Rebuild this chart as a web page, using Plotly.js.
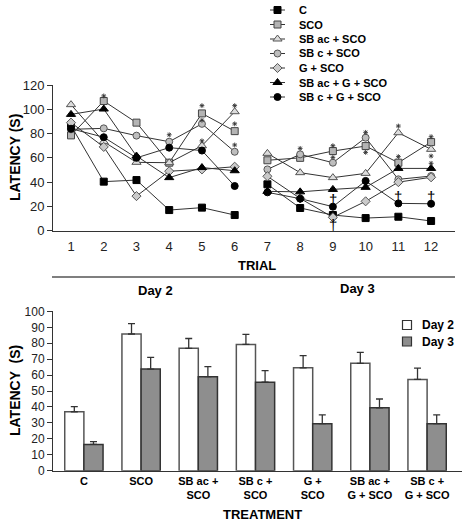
<!DOCTYPE html>
<html><head><meta charset="utf-8">
<script src="https://cdn.plot.ly/plotly-3.0.1.min.js"></script>
<style>html,body{margin:0;padding:0;background:#fff}#chart{width:466px;height:524px}</style>
</head><body><div id="chart"></div>
<script>
// ---------- Top chart data (latency per trial) ----------
const trials = [1,2,3,4,5,6,7,8,9,10,11,12];
const seriesNames = ['C','SCO','SB ac + SCO','SB c + SCO','G + SCO','SB ac + G + SCO','SB c + G + SCO'];
const latC        = [86.5, 40.4, 41.7, 17, 19, 12.9, 38.2, 18.7, 12.9, 10.4, 11.5, 8];
const latSCO      = [78.5, 106.8, 89, 56, 96.6, 82, 58, 60, 65.6, 69.7, 56, 73];
const latSBacSCO  = [103.8, 73.3, 56.3, 56, 70, 98, 63.7, 47.8, 43.7, 47.2, 80.7, 67];
const latSBcSCO   = [83.5, 84.3, 78.3, 73.3, 88, 65, 50.5, 62.9, 56, 76.6, 42.3, 45];
const latGSCO     = [89, 69, 28.5, 49, 50.5, 52.7, 44.8, 26.6, 11, 24.2, 40, 44];
const latSBacGSCO = [95.8, 100.2, 61.5, 43.7, 52, 49.4, 32.4, 32, 34, 35.7, 51.3, 51.3];
const latSBcGSCO  = [84, 77, 60, 68.4, 66, 36.8, 31.6, 26.4, 19.8, 41, 22.5, 22.2];
const trialTickLabels = ['1','2','3','4','5','6','7','8','9','10','11','12'];
// significance marks
const starX = [2, 4, 5, 5, 5, 6, 6, 6, 8, 9, 9, 10, 10, 11, 11, 12, 12, 12];
const starY = [111, 79, 103, 91, 74, 103, 88, 70.6, 67.8, 70, 60.4, 81, 64.5, 86.2, 61, 77.4, 61.5, 55.5];
const daggerX = [9, 9, 11, 12];
const daggerY = [26, 5, 28, 28];

// ---------- Bottom chart data ----------
const treatments = ['C','SCO','SB ac +<br>SCO','SB c +<br>SCO','G +<br>SCO','SB ac +<br>G + SCO','SB c +<br>G + SCO'];
const day2 = [37, 85.8, 76.8, 79.3, 64.6, 67.4, 57.3];
const day2Err = [3.2, 6.5, 6.2, 6.3, 7.6, 6.9, 7.1];
const day3 = [16.5, 63.8, 59, 55.6, 29.5, 39.5, 29.5];
const day3Err = [1.7, 7.3, 6.3, 7.2, 5.6, 5.5, 5.6];
const barNames = ['Day 2','Day 3'];

const FONT = 'Liberation Sans, Arial, Helvetica, sans-serif';
const W = 466, H = 524;
const px = v => v / W, py = v => 1 - v / H;

const allLat = [latC, latSCO, latSBacSCO, latSBcSCO, latGSCO, latSBacGSCO, latSBcGSCO];
const markerStyles = [
  {symbol:'square', size:7, color:'#000', line:{color:'#000', width:1}},
  {symbol:'square', size:7, color:'#b4b4b4', line:{color:'#444', width:1}},
  {symbol:'triangle-up', size:8, color:'#dcdcdc', line:{color:'#555', width:1}},
  {symbol:'circle', size:7, color:'#bebebe', line:{color:'#555', width:1}},
  {symbol:'diamond', size:7, color:'#cacaca', line:{color:'#555', width:1}},
  {symbol:'triangle-up', size:8, color:'#000', line:{color:'#000', width:1}},
  {symbol:'circle', size:7, color:'#000', line:{color:'#000', width:1}}
];

const traces = [];
allLat.forEach((vals, i) => {
  [[0,6],[6,12]].forEach(([a,b]) => {
    traces.push({
      type:'scatter', mode:'lines+markers', xaxis:'x', yaxis:'y',
      x: trials.slice(a,b), y: vals.slice(a,b), name: seriesNames[i],
      line:{color:'#333', width:1}, marker: markerStyles[i],
      showlegend:false, cliponaxis:false, hoverinfo:'skip'
    });
  });
});
// significance stars as asterisk markers
traces.push({type:'scatter', mode:'markers', xaxis:'x', yaxis:'y', x:starX, y:starY,
  marker:{symbol:'asterisk-open', size:4, color:'#333', line:{color:'#333', width:0.9}},
  showlegend:false, cliponaxis:false, hoverinfo:'skip'});

// bottom bars
traces.push({type:'bar', xaxis:'x2', yaxis:'y2', x:treatments, y:day2, name:barNames[0],
  marker:{color:'#fff', line:{color:'#555', width:1.5}},
  error_y:{type:'data', symmetric:false, array:day2Err, arrayminus:day2Err.map(()=>0), color:'#333', thickness:1.3, width:3.5},
  showlegend:false, hoverinfo:'skip'});
traces.push({type:'bar', xaxis:'x2', yaxis:'y2', x:treatments, y:day3, name:barNames[1],
  marker:{color:'#8e8e8e', line:{color:'#333', width:1.5}},
  error_y:{type:'data', symmetric:false, array:day3Err, arrayminus:day3Err.map(()=>0), color:'#333', thickness:1.3, width:3.5},
  showlegend:false, hoverinfo:'skip'});

// custom legends on a pixel-unit overlay axis
const lgX0 = 270, lgX1 = 285, lgTextX = 297, lgY0 = 10, lgDy = 14.5;
const annotations = [];
seriesNames.forEach((n, i) => {
  const yy = lgY0 + i * lgDy;
  traces.push({type:'scatter', mode:'lines', xaxis:'x4', yaxis:'y4', x:[lgX0, lgX1], y:[yy, yy],
    line:{color:'#333', width:1}, showlegend:false, hoverinfo:'skip', cliponaxis:false});
  traces.push({type:'scatter', mode:'markers', xaxis:'x4', yaxis:'y4', x:[(lgX0+lgX1)/2], y:[yy],
    marker: markerStyles[i], showlegend:false, hoverinfo:'skip', cliponaxis:false});
  annotations.push({text:n, xref:'paper', yref:'paper', x:px(lgTextX), y:py(yy), xanchor:'left', yanchor:'middle',
    showarrow:false, font:{family:FONT, size:11, color:'#000', weight:'bold'}});
});
const barLegendStyle = [{color:'#fff', line:{color:'#333', width:1.2}}, {color:'#8e8e8e', line:{color:'#333', width:1.2}}];
barNames.forEach((n, i) => {
  const yy = 325 + i * 16.5;
  traces.push({type:'scatter', mode:'markers', xaxis:'x4', yaxis:'y4', x:[407], y:[yy],
    marker:Object.assign({symbol:'square', size:9}, barLegendStyle[i]), showlegend:false, hoverinfo:'skip', cliponaxis:false});
  annotations.push({text:n, xref:'paper', yref:'paper', x:px(420), y:py(yy), xanchor:'left', yanchor:'middle',
    showarrow:false, font:{family:FONT, size:12, color:'#000', weight:'bold'}});
});

// daggers through the top axes
daggerX.forEach((x, i) => annotations.push({text:'†', xref:'x', yref:'y', x:x, y:daggerY[i], xanchor:'center', yanchor:'middle',
  showarrow:false, font:{family:FONT, size:15, color:'#000'}}));

const titleAnn = (text, x, y, size, angle) => ({text:text, xref:'paper', yref:'paper', x:px(x), y:py(y),
  xanchor:'center', yanchor:'middle', textangle:angle || 0, showarrow:false,
  font:{family:FONT, size:size, weight:'bold', color:'#000'}});
annotations.push(
  titleAnn('LATENCY (S)', 15, 158, 14, -90),
  titleAnn('TRIAL', 257, 265, 13),
  titleAnn('Day 2', 155, 290, 13),
  titleAnn('Day 3', 357, 288, 13),
  titleAnn('LATENCY  (S)', 15, 391, 14, -90),
  titleAnn('TREATMENT', 262, 514, 13)
);

const axisCommon = {showgrid:false, zeroline:false, showline:true, linecolor:'#333', linewidth:1,
  tickcolor:'#333', tickfont:{family:FONT, size:12, color:'#222'}};

const layout = {
  width:W, height:H, margin:{l:0, r:0, t:0, b:0},
  paper_bgcolor:'#fff', plot_bgcolor:'rgba(0,0,0,0)',
  font:{family:FONT, color:'#000'},
  showlegend:false,
  barmode:'group', bargap:0.33, bargroupgap:0,
  xaxis: Object.assign({}, axisCommon, {domain:[px(53), px(455)], range:[0.45, 12.73], anchor:'y',
    tickmode:'array', tickvals:trials, ticktext:trialTickLabels, ticks:'', ticklen:0, ticklabelstandoff:4,
    tickfont:{family:FONT, size:13, color:'#222'}}),
  xaxis3: {overlaying:'x', anchor:'y', range:[0.45, 12.73], showgrid:false, zeroline:false, showline:false,
    tickmode:'array', tickvals:[1.5,2.5,3.5,4.5,5.5,7.5,8.5,9.5,10.5,11.5], ticks:'outside', ticklen:5, tickcolor:'#333',
    showticklabels:false},
  yaxis: Object.assign({}, axisCommon, {domain:[py(230.7), py(85)], range:[0, 120], anchor:'x',
    tickmode:'array', tickvals:[0,20,40,60,80,100,120], ticks:'outside', ticklen:5,
    tickfont:{family:FONT, size:13, color:'#222'}}),
  xaxis2: Object.assign({}, axisCommon, {domain:[px(53), px(462)], range:[-0.54, 6.61], anchor:'y2',
    type:'category', ticks:'', tickfont:{family:FONT, size:11, color:'#000', weight:'bold'}}),
  yaxis2: Object.assign({}, axisCommon, {domain:[py(470.7), py(311.4)], range:[0, 100], anchor:'x2',
    tickmode:'linear', tick0:0, dtick:10, ticks:'outside', ticklen:5,
    tickfont:{family:FONT, size:12, color:'#222'}}),
  xaxis4: {domain:[0,1], range:[0, W], visible:false, anchor:'y4', fixedrange:true},
  yaxis4: {domain:[0,1], range:[H, 0], visible:false, anchor:'x4', fixedrange:true},
  shapes:[{type:'line', xref:'paper', yref:'paper', x0:px(52), x1:px(455), y0:py(277), y1:py(277), line:{color:'#000', width:1.2}}],
  annotations: annotations
};

Plotly.newPlot('chart', traces, layout, {staticPlot:true, displayModeBar:false});
</script></body></html>
